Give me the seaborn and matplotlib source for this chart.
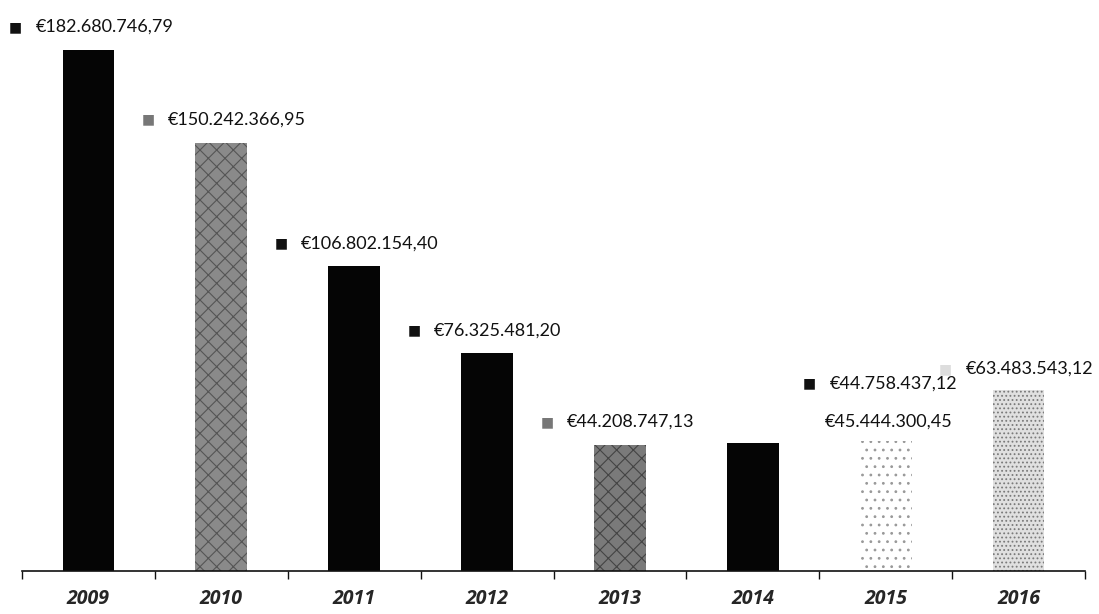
import numpy as np
import pandas as pd
import matplotlib
matplotlib.use("Agg")
import matplotlib.pyplot as plt
import seaborn as sns

# 数据
years = ["2009", "2010", "2011", "2012", "2013", "2014", "2015", "2016"]
values = [182680746.79, 150242366.95, 106802154.40, 76325481.20,
          44208747.13, 44758437.12, 45444300.45, 63483543.12]
labels = ["€182.680.746,79", "€150.242.366,95", "€106.802.154,40", "€76.325.481,20",
          "€44.208.747,13", "€44.758.437,12", "€45.444.300,45", "€63.483.543,12"]

# 样式
bar_colors = ["#050505", "#8a8a8a", "#050505", "#050505",
              "#7a7a7a", "#050505", "#ffffff", "#e0e0e0"]
hatches = [None, "xx", None, None, "xx", None, "..", "...."]
hatch_colors = ["#050505", "#555555", "#050505", "#050505",
                "#444444", "#050505", "#999999", "#7a7a7a"]
marker_colors = ["#111111", "#777777", "#111111", "#111111",
                 "#777777", "#111111", "#ffffff", "#dddddd"]
# 标签偏移(像素)
label_dx = [0, 0, 0, 0, 0, 130, -8, 0]
label_dy = [23, 23, 23, 23, 23, 60, 20, 21]

sns.set_style("white")
plt.rcParams["font.family"] = ["Lato", "DejaVu Sans"]
plt.rcParams["hatch.linewidth"] = 0.8

df = pd.DataFrame({"year": years, "value": values})

fig = plt.figure(figsize=(10.99, 6.14), dpi=100)
ax = fig.add_axes([22 / 1099, 1 - 571 / 614, 1063 / 1099, 551 / 614])

sns.barplot(data=df, x="year", y="value", hue="year", palette=bar_colors,
            width=0.39, legend=False, ax=ax, saturation=1)

for p, h, hc in zip(ax.patches, hatches, hatch_colors):
    p.set_linewidth(0)
    if h:
        p.set_hatch(h)
        p.set_edgecolor(hc)

ax.set_ylim(0, max(values) * 551 / 521)
ax.set_xlim(-0.5, len(years) - 0.5)

for i, (v, lab) in enumerate(zip(values, labels)):
    ax.annotate("■", xy=(i, v), xytext=(-73 + label_dx[i], label_dy[i]),
                textcoords="offset pixels", ha="center", va="center",
                fontsize=10, color=marker_colors[i], family="DejaVu Sans")
    ax.annotate(lab, xy=(i, v), xytext=(-53 + label_dx[i], label_dy[i]),
                textcoords="offset pixels", ha="left", va="center",
                fontsize=13, color="#111111")

# 坐标轴
for s in ["top", "right", "left"]:
    ax.spines[s].set_visible(False)
ax.spines["bottom"].set_color("#111111")
ax.spines["bottom"].set_linewidth(1.2)
ax.set_yticks([])
ax.set_xlabel("")
ax.set_ylabel("")
ax.set_xticks(range(len(years)))
ax.set_xticklabels(years, fontsize=14, fontweight="bold", fontstyle="italic",
                   family=["Open Sans", "DejaVu Sans"])
ax.tick_params(axis="x", which="major", bottom=False, length=0, pad=13)
ax.set_xticks(np.arange(-0.5, len(years)), minor=True)
ax.tick_params(axis="x", which="minor", bottom=True, length=6, width=1,
               color="#111111", direction="out")

fig.savefig("out.png", dpi=100)
